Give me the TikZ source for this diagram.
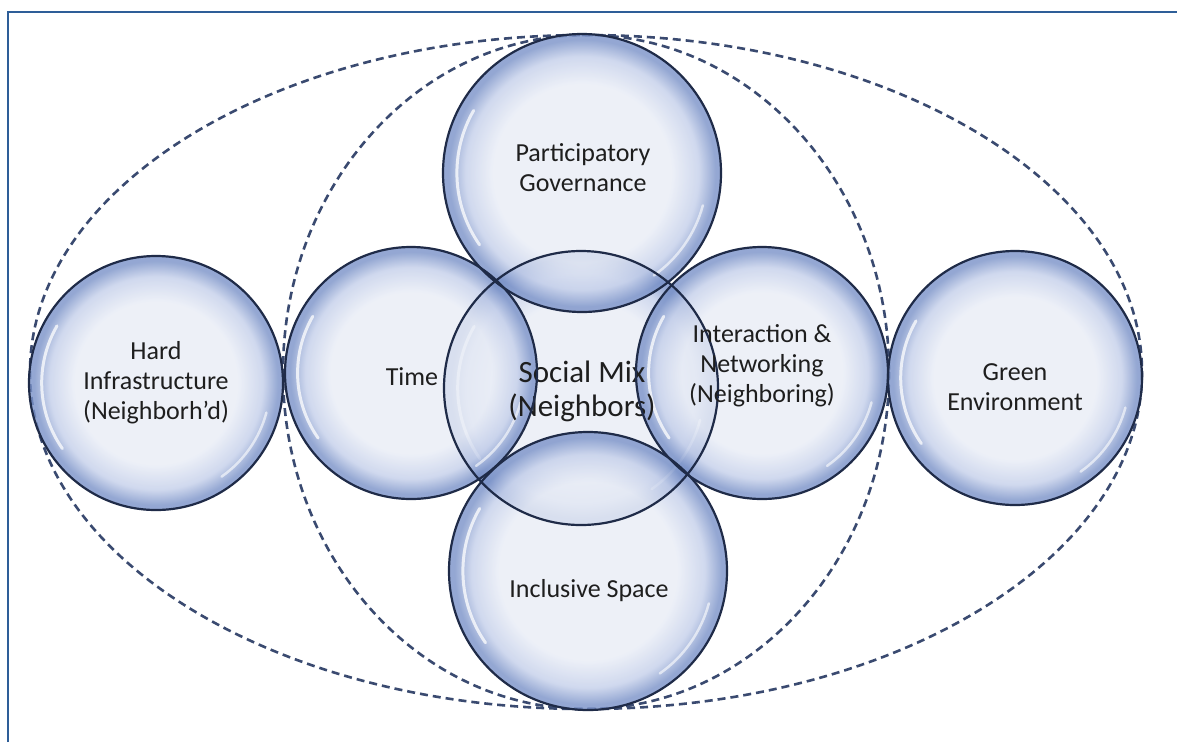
\documentclass[tikz,border=0pt]{standalone}
\usepackage{fontspec}
\setmainfont{Carlito}
\definecolor{bubin}{HTML}{E9EDF6}
\definecolor{bubmid}{HTML}{C4CFEA}
\definecolor{bubout}{HTML}{7A92C8}
\definecolor{bubline}{HTML}{1F2B48}
\definecolor{dashcol}{HTML}{3A4A70}
\definecolor{framecol}{HTML}{2E5E98}
\definecolor{txt}{HTML}{1E1E1E}
% the path edge lies at 25bp of a pgf radial shading
\pgfdeclareradialshading{bubble}{\pgfpoint{0bp}{0bp}}{%
  color(0bp)=(bubin); color(16bp)=(bubin); color(21bp)=(bubmid);
  color(24bp)=(bubout); color(25bp)=(bubout); color(50bp)=(bubout)}
\tikzset{
  bubble/.style={circle, inner sep=0pt,
    minimum size=2*#1 pt, shading=bubble, fill opacity=0.8,
    path picture={
      \draw[white, line width=3pt, opacity=0.75, line cap=round]
        ([shift={(150:0.9*#1 pt)}]path picture bounding box.center)
        arc[start angle=150, end angle=215, radius=0.9*#1 pt];
      \draw[white, line width=2.5pt, opacity=0.6, line cap=round]
        ([shift={(-55:0.9*#1 pt)}]path picture bounding box.center)
        arc[start angle=-55, end angle=-15, radius=0.9*#1 pt];
    }},
  rim/.style={draw=bubline, line width=2.2pt},
  lbl/.style={text=txt, align=center, inner sep=0pt,
    font=\fontsize{26}{30}\selectfont},
  ring/.style={draw=dashcol, line width=2.6pt, dash pattern=on 8pt off 5pt}
}
\begin{document}
\begin{tikzpicture}[x=1pt, y=-1pt]
  \useasboundingbox[fill=white] (0,0) rectangle (1177,742);
  % page frame
  \draw[framecol, line width=2pt] (8,742) -- (8,12) -- (1177,12);
  % dashed enclosures
  \draw[ring] (586,372) ellipse[x radius=556, y radius=337];
  \draw[ring] (586,372) ellipse[x radius=303, y radius=337];
  % translucent bubbles
  \node[bubble=137] (social) at (581,388) {};
  \node[bubble=139] (partic) at (582,173) {};
  \node[bubble=126] (time) at (411,373) {};
  \node[bubble=126] (inter) at (762,373) {};
  \node[bubble=139] (incl) at (588,571) {};
  \node[bubble=127] (hard) at (156,383) {};
  \node[bubble=127] (green) at (1015,378) {};
  % central label
  \node[lbl, font=\fontsize{31}{34}\selectfont] (socialtxt) at (582,391)
    {Social Mix\\(Neighbors)};
  % rims on top of all the translucent fills
  \foreach \n/\r in {social/137, partic/139, time/126, inter/126,
                     incl/139, hard/127, green/127}
    \draw[rim] (\n.center) circle[radius=\r pt];
  % labels
  \node[lbl] (partictxt) at (583,168) {Participatory\\Governance};
  \node[lbl] (timetxt) at (412,377) {Time};
  \node[lbl] (intertxt) at (762,366) {Interaction \&\\Networking\\(Neighboring)};
  \node[lbl] (incltxt) at (589,591) {Inclusive Space};
  \node[lbl] (hardtxt) at (156,383) {Hard\\Infrastructure\\(Neighborh'd)};
  \node[lbl] (greentxt) at (1015,387) {Green\\Environment};
\end{tikzpicture}
\end{document}
